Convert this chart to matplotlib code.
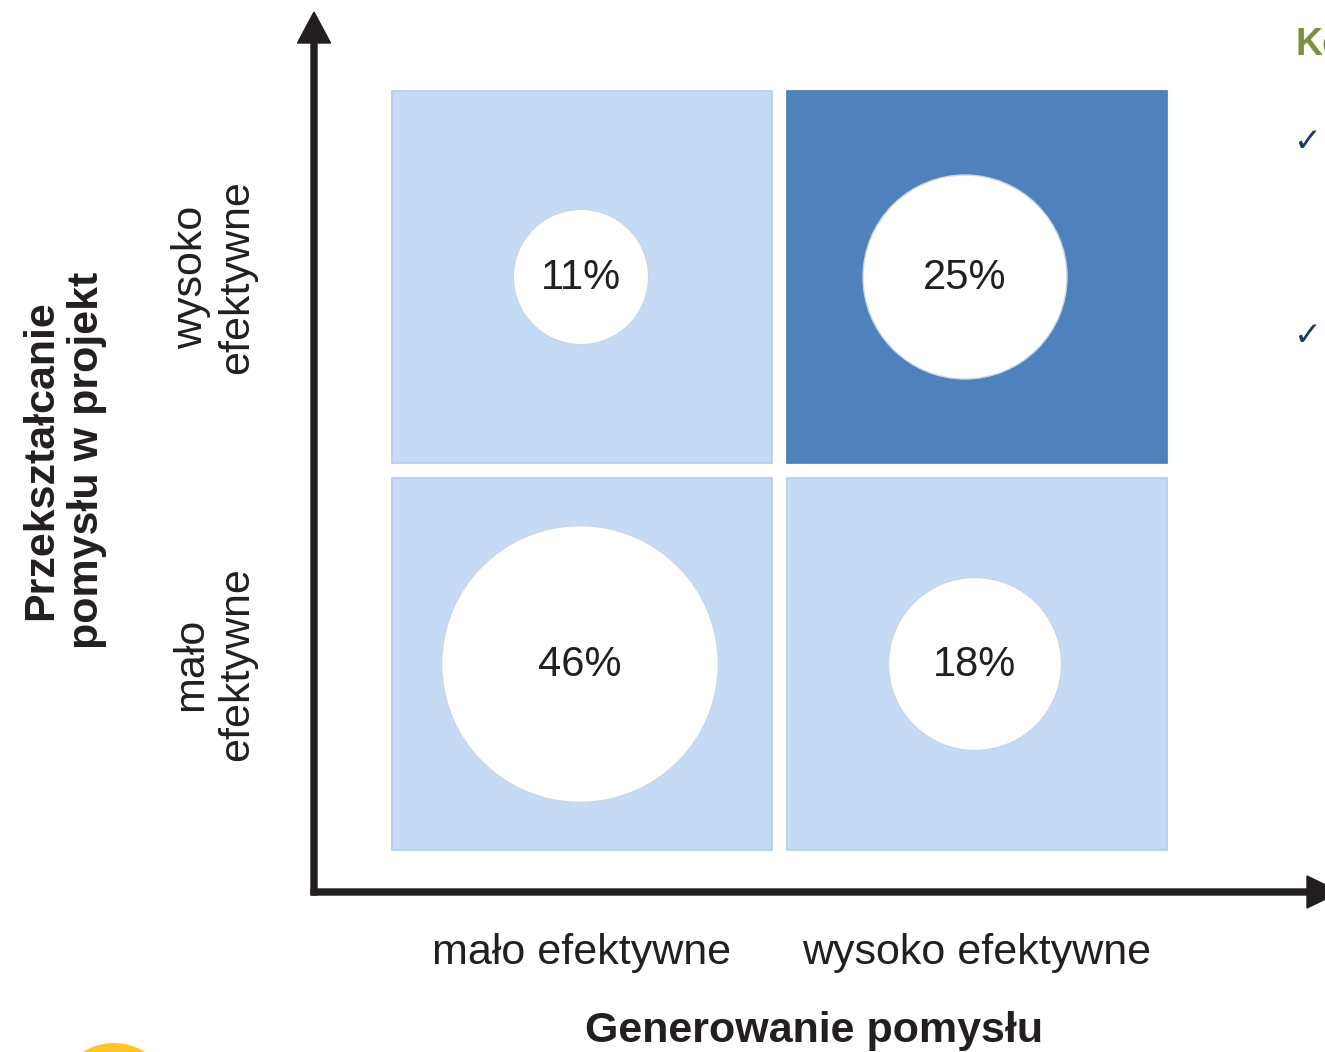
import matplotlib
matplotlib.use("Agg")
import matplotlib.pyplot as plt
from matplotlib.patches import Rectangle, Circle
import numpy as np

# ---- data ----
x_categories = ["mało efektywne", "wysoko efektywne"]
y_categories = ["mało\nefektywne", "wysoko\nefektywne"]
x_title = "Generowanie pomysłu"
y_title = "Przekształcanie\npomysłu w projekt"
cell_x = [0, 1, 0, 1]          # index into x_categories
cell_y = [1, 1, 0, 0]          # index into y_categories
shares = [11, 25, 46, 18]      # percent
highlight = [False, True, False, False]

# ---- layout (pixels) ----
W, H = 1325, 1052
plt.rcParams['font.family'] = ['Liberation Sans', 'DejaVu Sans']
fig = plt.figure(figsize=(W / 100, H / 100), dpi=100)
ax = fig.add_axes([0, 0, 1, 1])
ax.set_xlim(0, W)
ax.set_ylim(H, 0)
ax.axis('off')

TXT = '#231f20'
LIGHT = '#c5daf4'
LIGHT_EDGE = '#b3cdec'
DARK = '#4f81bd'
DARK_EDGE = '#4a7bb7'

col_left0, col_step, cell_w = 392, 395, 380
row_top_low, row_step, cell_h = 478, 387, 372
k_radius = 20.4   # px per sqrt(percent): circle area proportional to share
circle_dx = [-1, -12, -2, -2]   # small horizontal placement offsets of bubbles


def cell_center(i, j):
    return col_left0 + i * col_step + cell_w / 2, row_top_low - j * row_step + cell_h / 2


for i, j, v, hl, dx in zip(cell_x, cell_y, shares, highlight, circle_dx):
    cx, cy = cell_center(i, j)
    ax.add_patch(Rectangle((cx - cell_w / 2, cy - cell_h / 2), cell_w, cell_h,
                           facecolor=DARK if hl else LIGHT,
                           edgecolor=DARK_EDGE if hl else LIGHT_EDGE, lw=1.2, zorder=1))
    r = k_radius * np.sqrt(v)
    ax.add_patch(Circle((cx + dx, cy), r, facecolor='white', edgecolor='#c9d6e6',
                        lw=1.0, zorder=2))
    ax.text(cx + dx, cy + 1, f"{v}%", ha='center', va='center', fontsize=30,
            color=TXT, zorder=3)

# axes arrows
ax.arrow(314, 895, 0, -883, width=6, head_width=33, head_length=31,
         length_includes_head=True, color=TXT, zorder=4)
ax.arrow(311, 892, 1029, 0, width=6, head_width=32, head_length=33,
         length_includes_head=True, color=TXT, zorder=4)

# tick labels
for i, lab in enumerate(x_categories):
    cx, _ = cell_center(i, 0)
    ax.text(cx, 953, lab, ha='center', va='center', fontsize=31, color=TXT)
for j, lab in enumerate(y_categories):
    _, cy = cell_center(0, j)
    ax.text(214, cy, lab, ha='center', va='center', rotation=90, fontsize=31,
            color=TXT, linespacing=1.2, multialignment='center')

# titles
ax.text(814, 1031, x_title, ha='center', va='center', fontsize=31,
        fontweight='bold', color=TXT)
ax.text(64, 460, y_title, ha='center', va='center', rotation=90, fontsize=31,
        fontweight='bold', color=TXT, linespacing=1.2, multialignment='center')

# cropped page decorations (as in the reference page crop)
ax.text(1295, 45, "Ko", ha='left', va='center', fontsize=27, fontweight='bold',
        color='#77933c')
for yy in (142, 335):
    ax.text(1308, yy, "✓", ha='center', va='center', fontsize=24,
            fontweight='bold', color='#1f3864', family=['DejaVu Sans'])
ax.add_patch(Circle((114, 1101), 58, facecolor='#ffc425', edgecolor='none'))

fig.savefig("out.png", dpi=100)
